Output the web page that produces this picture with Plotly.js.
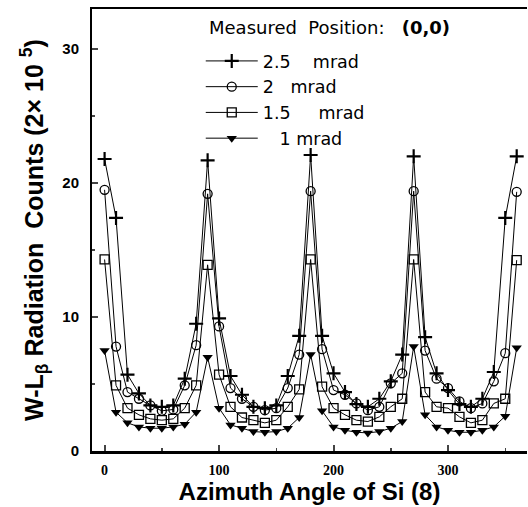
<!DOCTYPE html>
<html><head><meta charset="utf-8">
<script src="https://cdn.plot.ly/plotly-3.0.1.min.js"></script>
<style>html,body{margin:0;padding:0;background:#fff}#chart{width:528px;height:507px}</style>
</head><body><div id="chart"></div>
<script>
const angles = [0,10,20,30,40,50,60,70,80,90,100,110,120,130,140,150,160,170,180,190,200,210,220,230,240,250,260,270,280,290,300,310,320,330,340,350,360];

const mrad25 = [21.8,17.4,5.7,4.3,3.4,3.3,3.4,5.4,9.5,21.7,9.9,5.6,4.2,3.3,3.2,3.4,5.6,8.6,22.1,8.6,5.8,4.4,3.5,3.3,3.9,5.2,7.2,22.0,8.5,5.8,4.55,3.5,3.3,3.9,5.9,17.4,22.0];
const mrad20 = [19.5,7.8,4.4,3.9,3.4,3.0,3.1,4.9,7.9,19.2,9.3,4.7,3.9,3.3,3.05,3.2,4.7,7.2,19.4,7.6,4.55,4.2,3.55,3.05,3.3,5.05,5.8,19.4,7.5,5.4,4.7,3.7,3.2,3.55,5.2,7.3,19.35];
const mrad15 = [14.3,4.9,3.2,2.7,2.4,2.3,2.4,3.2,4.9,13.9,5.7,3.3,2.5,2.3,2.1,2.3,3.3,4.6,14.3,4.8,3.2,2.7,2.3,2.2,2.55,3.3,3.9,14.3,4.4,3.3,3.2,2.55,2.1,2.3,3.55,3.9,14.25];
const mrad10 = [7.5,2.9,2.1,1.8,1.7,1.7,1.8,2.0,2.9,7.0,3.2,1.95,1.7,1.45,1.4,1.45,1.7,2.5,7.2,3.0,1.8,1.55,1.4,1.35,1.45,1.7,2.2,7.8,2.7,1.8,1.55,1.4,1.4,1.55,1.8,2.6,7.7];

const NB = '\u00a0';
const seriesNames = ["2.5" + NB.repeat(4) + "mrad", "2" + NB.repeat(3) + "mrad", "1.5" + NB.repeat(5) + "mrad", NB.repeat(3) + "1" + NB + "mrad"];
const xTickVals = [0,100,200,300];
const xTickText = ["0","100","200","300"];
const yTickVals = [0,10,20,30];
const yTickText = ["0","10","20","30"];

const series = [mrad25, mrad20, mrad15, mrad10];
const markerStyles = [
  {symbol:'cross-thin', size:10, color:'#000', line:{color:'#000', width:2.2}},
  {symbol:'circle-open', size:9, color:'#000', line:{color:'#000', width:1.3}},
  {symbol:'square-open', size:9, color:'#000', line:{color:'#000', width:1.3}},
  {symbol:'triangle-down', size:9, color:'#000', line:{color:'#000', width:0}}
];

const traces = series.map((vals, i) => ({
  type:'scatter', mode:'lines+markers',
  x: angles, y: vals, name: seriesNames[i],
  legendgroup: 'g'+i,
  line:{color:'#000', width:1},
  marker: markerStyles[i],
  cliponaxis:false
}));

const layout = {
  width:528, height:507,
  margin:{l:92, r:1, t:9, b:56},
  paper_bgcolor:'#fff', plot_bgcolor:'#fff',
  showlegend:true,
  legend:{x:0.25, y:0.923, xanchor:'left', yanchor:'top', bgcolor:'rgba(0,0,0,0)',
          font:{family:'DejaVu Sans', size:17.5, color:'#000'}, itemwidth:52, tracegroupgap:0},
  xaxis:{range:[-11,369], tickvals:xTickVals, ticktext:xTickText.map(t => '<b>' + t + '</b>'), ticks:'inside', ticklen:6, tickwidth:2,
         minor:{dtick:50, tick0:0, ticks:'inside', ticklen:3, tickwidth:1.5},
         showline:true, linewidth:2.5, linecolor:'#000', mirror:true, showgrid:false, zeroline:false,
         tickfont:{family:'Liberation Serif, Times New Roman, serif', size:14, color:'#000'}, ticklabelstandoff:5,
         title:{text:'<b>Azimuth Angle of Si (8)</b>', font:{family:'Liberation Sans', size:24, color:'#000'}, standoff:5}},
  yaxis:{range:[0,33], tickvals:yTickVals, ticktext:yTickText.map(t => '<b>' + t + '</b>'), ticks:'inside', ticklen:6, tickwidth:2,
         minor:{dtick:5, tick0:0, ticks:'inside', ticklen:3, tickwidth:1.5},
         showline:true, linewidth:2, linecolor:'#000', showgrid:false, zeroline:false,
         tickfont:{family:'Liberation Sans', size:15, color:'#000'}, ticklabelstandoff:8,
         title:{text:'<b>W-L<sub>β</sub> Radiation' + NB + NB + 'Counts' + NB + '(2×' + NB + '10' + NB + '<sup>5</sup>)</b>', font:{family:'Liberation Sans', size:25, color:'#000'}, standoff:12}},
  yaxis2:{overlaying:'y', side:'right', anchor:'x', range:[0,10], dtick:1, ticks:'inside', ticklen:6, tickwidth:2,
          showticklabels:false, showline:true, linewidth:1, linecolor:'#000', showgrid:false, zeroline:false},
  annotations:[{xref:'paper', yref:'paper', x:0.264, y:0.959, xanchor:'left', yanchor:'middle', showarrow:false,
    text:'Measured' + NB + NB + 'Position:' + NB + NB + NB + '<b>(0,0)</b>', font:{family:'DejaVu Sans', size:18, color:'#000'}}]
};

Plotly.newPlot('chart', traces, layout, {staticPlot:true, displayModeBar:false});
</script>
</body></html>
